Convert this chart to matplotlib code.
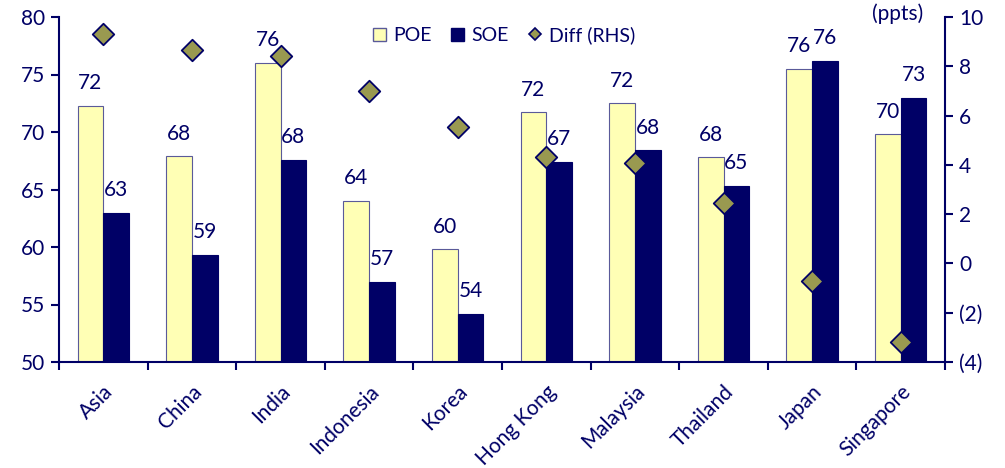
import matplotlib
matplotlib.use("Agg")
import matplotlib.pyplot as plt
import numpy as np
from matplotlib.lines import Line2D
from matplotlib.patches import Patch

plt.rcParams['font.family'] = ['Lato', 'DejaVu Sans']

categories = ["Asia", "China", "India", "Indonesia", "Korea", "Hong Kong",
              "Malaysia", "Thailand", "Japan", "Singapore"]
poe = [72.3, 67.9, 76.0, 64.0, 59.8, 71.7, 72.5, 67.8, 75.5, 69.8]
soe = [63.0, 59.3, 67.6, 57.0, 54.2, 67.4, 68.4, 65.3, 76.2, 73.0]
diff = [9.3, 8.65, 8.4, 7.0, 5.55, 4.3, 4.08, 2.45, -0.7, -3.2]

left_ticks = [50, 55, 60, 65, 70, 75, 80]
right_ticks = [-4, -2, 0, 2, 4, 6, 8, 10]
right_labels = ["(4)", "(2)", "0", "2", "4", "6", "8", "10"]

navy = "#000066"
yellow = "#FFFFB5"
olive = "#999950"
FS = 15

fig = plt.figure(figsize=(10.05, 4.68), dpi=100)
ax = fig.add_axes([59/1005, 1-362/468, (945-59)/1005, (362-17)/468])
ax2 = ax.twinx()

x = np.arange(len(categories))
w = 0.29
ax.bar(x - w/2, [v - 50 for v in poe], w, bottom=50, color=yellow, edgecolor="#5a5a99", linewidth=0.8, zorder=2)
ax.bar(x + w/2, [v - 50 for v in soe], w, bottom=50, color=navy, edgecolor=navy, linewidth=0.8, zorder=2)

for i in range(len(categories)):
    ax.text(x[i] - w/2, poe[i] + 1.1, f"{round(poe[i]):d}", ha="center", va="bottom", fontsize=FS, color=navy)
    ax.text(x[i] + w/2, soe[i] + 1.1, f"{round(soe[i]):d}", ha="center", va="bottom", fontsize=FS, color=navy)

ax2.scatter(x, diff, marker="D", s=120, color=olive, edgecolor=navy, linewidth=1.3, zorder=5)

ax.set_xlim(-0.5, len(categories) - 0.5)
ax.set_ylim(50, 80)
ax2.set_ylim(-4, 10)
ax.set_yticks(left_ticks)
ax2.set_yticks(right_ticks)
ax2.set_yticklabels(right_labels)

ax.set_xticks(np.arange(len(categories) + 1) - 0.5, minor=False)
ax.set_xticklabels([])
ax.set_xticks(x, minor=True)
ax.set_xticklabels(categories, minor=True, rotation=45, ha="right", rotation_mode="anchor")
ax.tick_params(axis="x", which="minor", length=0, pad=14, labelsize=FS, labelcolor=navy)
ax.tick_params(axis="x", which="major", length=6, width=1.5, color=navy, direction="out")
ax.tick_params(axis="y", length=6, width=1.5, color=navy, labelsize=FS, labelcolor=navy, pad=4)
ax2.tick_params(axis="y", length=6, width=1.5, color=navy, labelsize=FS, labelcolor=navy, pad=4)

for a in (ax, ax2):
    a.spines["top"].set_visible(False)
    for s in ("left", "right", "bottom"):
        a.spines[s].set_color(navy)
        a.spines[s].set_linewidth(1.5)
ax.spines["right"].set_visible(False)
ax2.spines["left"].set_visible(False)
ax2.spines["bottom"].set_visible(False)

fig.text(898/1005, 1-14/468, "(ppts)", ha="center", va="center", fontsize=FS, color=navy)

handles = [Patch(facecolor=yellow, edgecolor="#5a5a99", label="POE"),
           Patch(facecolor=navy, edgecolor=navy, label="SOE"),
           Line2D([], [], marker="D", linestyle="none", markersize=6, markerfacecolor=olive,
                  markeredgecolor=navy, markeredgewidth=1.2, label="Diff (RHS)")]
leg = fig.legend(handles=handles, loc="center", bbox_to_anchor=(504/1005, 1-35/468), ncol=3,
                 frameon=False, fontsize=14, handlelength=0.65, handleheight=0.65,
                 handletextpad=0.4, columnspacing=1.0)
for t in leg.get_texts():
    t.set_color(navy)

fig.savefig("out.png", dpi=100)
